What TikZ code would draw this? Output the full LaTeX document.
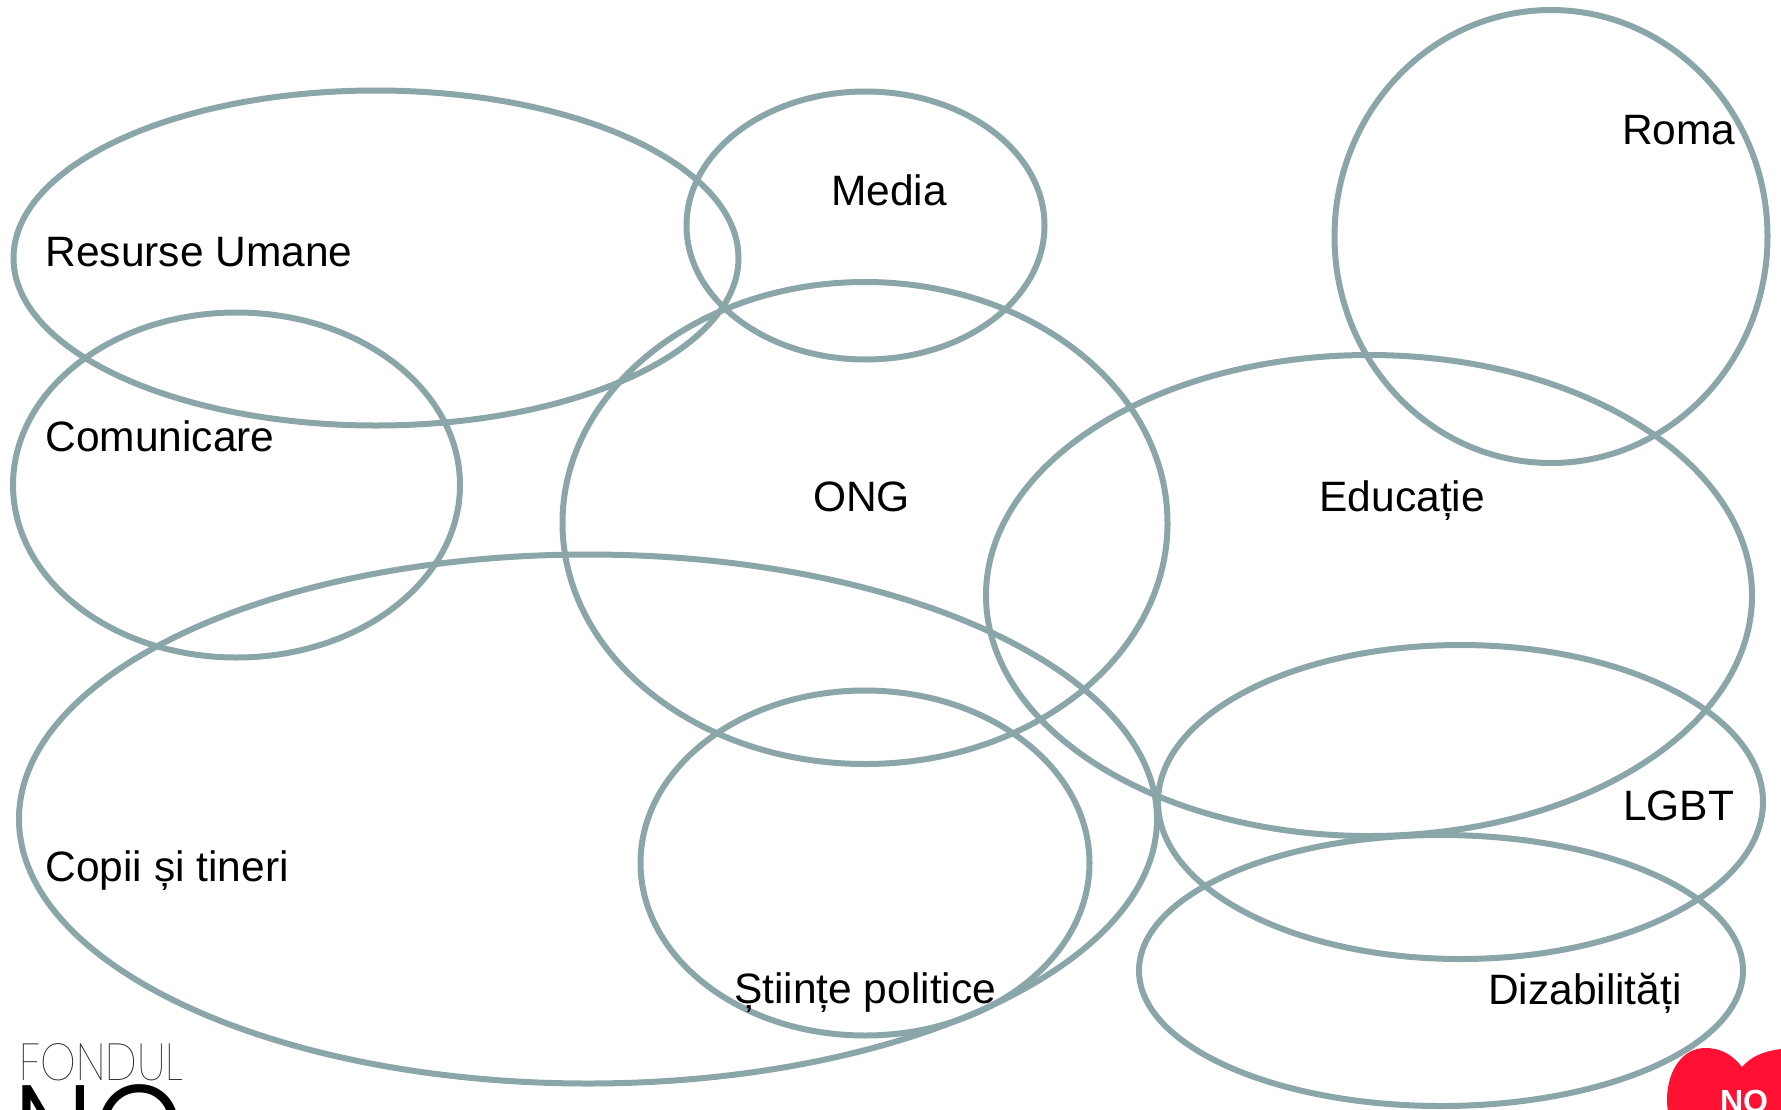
\documentclass[tikz,border=0pt]{standalone}
\usepackage{fontspec}
\setmainfont{Liberation Sans}
\newfontfamily\logofont{Poppins Thin}
\newfontfamily\logofontb{Poppins Light}
\usetikzlibrary{shapes.geometric}
\definecolor{ringc}{HTML}{8BA6A9}
\definecolor{heartc}{HTML}{FF1133}
\tikzset{
  ring/.style={ellipse,draw=ringc,line width=6pt,inner sep=0pt,outer sep=0pt},
  lab/.style={anchor=base west,inner sep=0pt,outer sep=0pt,font=\fontsize{42.5pt}{50pt}\selectfont,text=black}
}
\begin{document}
\begin{tikzpicture}[x=1pt,y=-1pt]
\useasboundingbox (0,0) rectangle (1781,1109);
\clip (0,0) rectangle (1781,1109);
\node[ring,minimum width=725pt,minimum height=335pt] (r1) at (376,258) {};
\node[ring,minimum width=358pt,minimum height=268pt] (r2) at (865.5,225.5) {};
\node[ring,minimum width=447pt,minimum height=345pt] (r3) at (236.5,485) {};
\node[ring,minimum width=605pt,minimum height=482pt] (r4) at (865,523) {};
\node[ring,minimum width=766pt,minimum height=481pt] (r5) at (1369,595.5) {};
\node[ring,minimum width=433pt,minimum height=453pt] (r6) at (1551,236.5) {};
\node[ring,minimum width=1138pt,minimum height=529pt] (r7) at (588,819) {};
\node[ring,minimum width=449pt,minimum height=345pt] (r8) at (865,863) {};
\node[ring,minimum width=605pt,minimum height=314pt] (r9) at (1460.5,802) {};
\node[ring,minimum width=604pt,minimum height=271pt] (r10) at (1441,970.5) {};
\node[lab] (t1) at (45.5,266) {Resurse Umane};
\node[lab] (t2) at (831,205) {Media};
\node[lab] (t3) at (45.5,451) {Comunicare};
\node[lab] (t4) at (813,511.5) {ONG};
\node[lab] (t5) at (1319.5,511.5) {Educație};
\node[lab] (t6) at (1622,144) {Roma};
\node[lab] (t7) at (45.5,881) {Copii și tineri};
\node[lab] (t8) at (734,1003) {Științe politice};
\node[lab] (t9) at (1623,820) {LGBT};
\node[lab] (t10) at (1488,1004) {Dizabilități};
% logo
\node[anchor=base west,inner sep=0pt,font=\logofont\fontsize{52pt}{52pt}\selectfont,text=black!85,xscale=.87] (fondul) at (19,1080) {FONDUL};
\node[anchor=base west,inner sep=0pt,font=\logofontb\fontsize{130pt}{130pt}\selectfont,text=black,xscale=.9] (ng) at (13,1176) {NG};
% heart
\fill[heartc] (1742,1067) .. controls (1730,1052) and (1718,1048) .. (1705,1048)
  .. controls (1683,1048) and (1667,1070) .. (1667,1100)
  .. controls (1667,1125) and (1680,1140) .. (1700,1160) -- (1800,1160) -- (1800,1048)
  .. controls (1775,1048) and (1755,1052) .. (1742,1067) -- cycle;
\node[anchor=base,inner sep=0pt,font=\bfseries\fontsize{32pt}{32pt}\selectfont,text=white] (no) at (1744,1112) {NO};
\end{tikzpicture}
\end{document}
